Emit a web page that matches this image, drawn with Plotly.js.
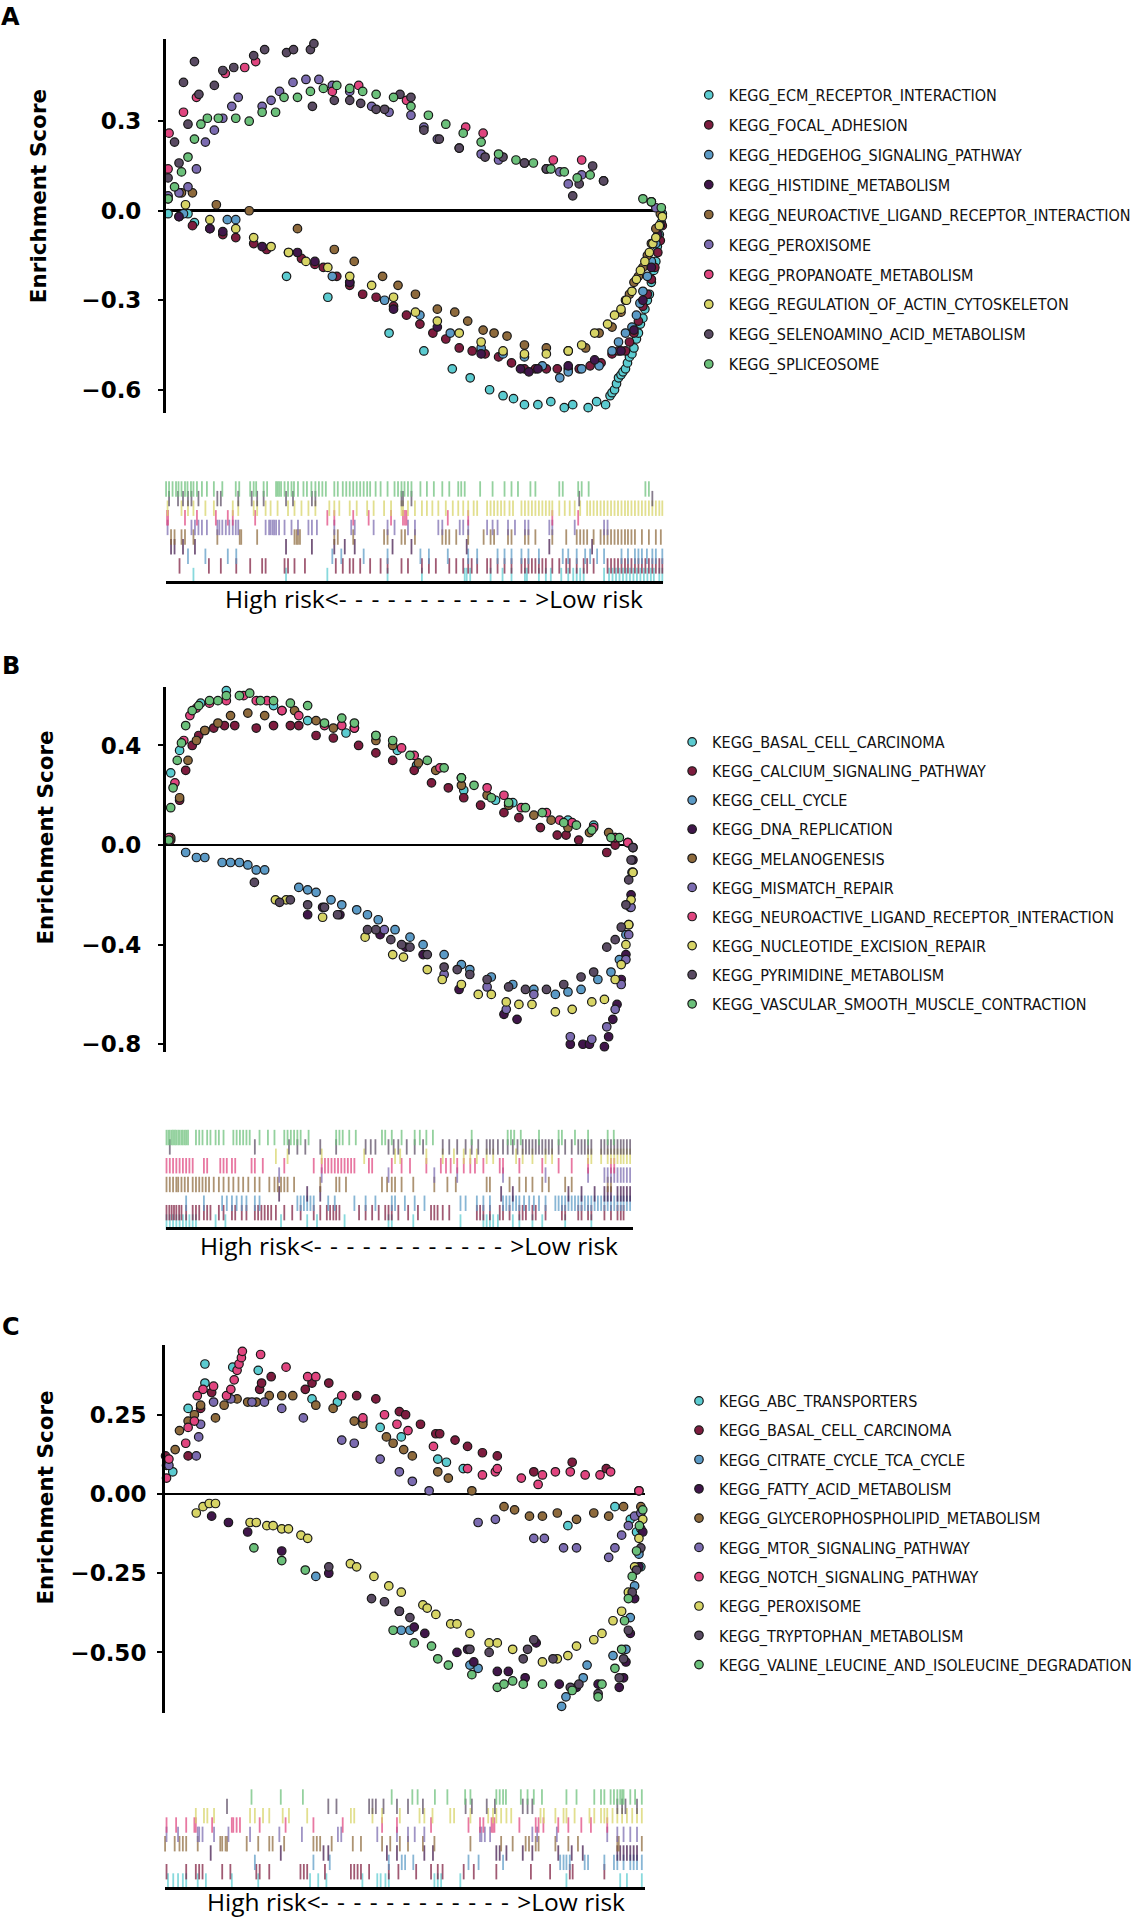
<!DOCTYPE html>
<html>
<head>
<meta charset="utf-8">
<script src="https://cdn.plot.ly/plotly-3.0.1.min.js"></script>
<style>
html,body{margin:0;padding:0;background:#fff;}
#chart{width:1137px;height:1919px;}
</style>
</head>
<body>
<div id="chart"></div>
<script>
// ---------------- palette (shared by the three panels) ----------------
const palette = ['#5BCBD0','#7D1C3E','#5B9AC6','#40164A','#8E6A3C','#7B6BB0','#E0457F','#D7D465','#594A62','#6BC07A'];

// ---------------- Panel A ----------------
const aNames = ['KEGG_ECM_RECEPTOR_INTERACTION','KEGG_FOCAL_ADHESION','KEGG_HEDGEHOG_SIGNALING_PATHWAY','KEGG_HISTIDINE_METABOLISM','KEGG_NEUROACTIVE_LIGAND_RECEPTOR_INTERACTION','KEGG_PEROXISOME','KEGG_PROPANOATE_METABOLISM','KEGG_REGULATION_OF_ACTIN_CYTOSKELETON','KEGG_SELENOAMINO_ACID_METABOLISM','KEGG_SPLICEOSOME'];
const aTicks = [-0.6,-0.3,0,0.3];

const aEcmX = [0.5,4.5,5.8,24.3,32.6,44.9,51.9,57.6,61.2,65.1,67.8,69.9,72.1,74.8,77.4,80.1,81.8,84.9,86.6,88.4,89.3,89.7,90.2,90.6,91.0,91.5,91.9,92.4,92.8,93.2,93.7,94.1,94.6,95.0,95.4,95.9,96.3,96.8,97.2,97.6,98.1,98.5,98.8,99.2,99.6,99.8];
const aEcmY = [-0.01,-0.01,-0.04,-0.22,-0.29,-0.41,-0.47,-0.53,-0.56,-0.60,-0.62,-0.63,-0.65,-0.65,-0.64,-0.66,-0.65,-0.66,-0.64,-0.65,-0.62,-0.61,-0.60,-0.58,-0.56,-0.55,-0.54,-0.53,-0.51,-0.49,-0.48,-0.46,-0.43,-0.41,-0.38,-0.36,-0.33,-0.30,-0.28,-0.24,-0.20,-0.17,-0.12,-0.08,-0.04,-0.01];
const aFocalX = [2.7,5.4,8.9,11.5,14.1,17.7,20.3,24.7,27.3,30.0,31.7,34.4,37.0,39.6,42.3,45.8,48.4,51.1,53.7,56.3,59.0,61.6,64.2,66.9,69.5,72.1,74.3,76.5,78.7,80.9,83.1,85.3,87.5,89.7,91.0,92.4,93.2,94.1,95.0,95.9,96.8,97.6,98.3,98.9,99.4,99.8];
const aFocalY = [-0.02,-0.05,-0.06,-0.08,-0.09,-0.11,-0.13,-0.14,-0.16,-0.18,-0.19,-0.22,-0.25,-0.28,-0.29,-0.32,-0.35,-0.38,-0.41,-0.43,-0.46,-0.47,-0.48,-0.49,-0.51,-0.53,-0.53,-0.53,-0.53,-0.53,-0.53,-0.52,-0.51,-0.48,-0.47,-0.47,-0.44,-0.41,-0.37,-0.32,-0.28,-0.23,-0.19,-0.14,-0.10,-0.05];
const aHedgeX = [3.6,12.4,14.1,33.5,37.0,44.0,51.1,57.2,63.4,67.8,72.1,75.7,79.2,80.9,83.6,87.1,89.7,91.0,92.4,93.7,94.6,95.3,95.9,96.8,97.6,98.5,99.4];
const aHedgeY = [-0.01,-0.03,-0.03,-0.22,-0.24,-0.30,-0.35,-0.41,-0.46,-0.48,-0.49,-0.52,-0.56,-0.54,-0.53,-0.52,-0.47,-0.44,-0.41,-0.39,-0.35,-0.31,-0.27,-0.22,-0.17,-0.11,-0.05];
const aHistX = [2.7,8.9,11.5,19.4,26.5,30.0,37.0,45.8,54.6,63.4,71.3,73.0,74.8,80.9,86.2,91.5,94.1,95.9,97.6,98.9];
const aHistY = [-0.02,-0.06,-0.07,-0.12,-0.14,-0.17,-0.24,-0.33,-0.39,-0.48,-0.53,-0.54,-0.53,-0.52,-0.50,-0.47,-0.40,-0.30,-0.19,-0.08];
const aNeuroX = [0.5,3.2,5.4,10.2,16.8,26.5,33.9,37.9,43.6,46.7,50.2,54.6,58.1,60.7,63.8,66.0,68.6,72.1,76.5,80.9,84.4,87.1,89.7,91.5,92.4,93.2,94.1,95.0,95.9,96.8,97.6,98.5,99.4];
const aNeuroY = [0.04,0.06,0.06,0.02,0.00,-0.06,-0.13,-0.17,-0.22,-0.25,-0.28,-0.33,-0.34,-0.37,-0.40,-0.41,-0.42,-0.45,-0.46,-0.47,-0.46,-0.41,-0.39,-0.34,-0.30,-0.28,-0.24,-0.22,-0.19,-0.15,-0.11,-0.06,-0.01];
const aPeroxX = [0.5,2.7,4.5,6.2,8.0,9.8,11.5,13.3,14.6,19.4,21.2,22.9,25.6,28.2,30.8,33.5,37.0,41.4,44.9,49.3,51.9,54.6,59.0,63.4,66.9,72.1,76.5,79.2,80.9,83.6,88.0,98.5];
const aPeroxY = [0.05,0.06,0.08,0.14,0.23,0.27,0.31,0.35,0.38,0.35,0.37,0.40,0.43,0.44,0.44,0.42,0.40,0.35,0.33,0.32,0.28,0.24,0.21,0.19,0.17,0.16,0.14,0.13,0.09,0.12,0.10,0.01];
const aPropX = [0.5,0.7,3.6,6.2,12.0,15.9,18.1,33.5,38.8,48.4,60.3,63.8,77.9,83.6];
const aPropY = [0.14,0.26,0.33,0.38,0.46,0.48,0.50,0.40,0.42,0.37,0.28,0.26,0.17,0.17];
const aActinX = [4.0,8.9,14.1,17.7,21.2,24.7,28.2,32.6,37.0,41.4,45.8,50.2,54.6,59.0,63.4,67.8,72.1,76.5,80.9,83.6,86.2,88.8,90.2,91.5,92.6,93.7,94.6,95.4,96.3,97.2,97.9,98.5,99.2,99.8];
const aActinY = [0.02,-0.03,-0.06,-0.09,-0.12,-0.14,-0.17,-0.19,-0.22,-0.25,-0.29,-0.34,-0.37,-0.41,-0.44,-0.47,-0.48,-0.48,-0.47,-0.45,-0.41,-0.38,-0.35,-0.33,-0.30,-0.27,-0.23,-0.20,-0.17,-0.14,-0.11,-0.09,-0.05,-0.02];
const aSelenoX = [0.5,1.8,2.7,3.6,4.5,5.8,6.7,9.8,11.5,13.7,17.7,19.9,24.3,25.7,29.1,29.5,29.8,33.9,37.0,39.2,42.3,44.0,47.1,49.3,51.9,55.0,59.0,64.2,67.8,72.1,76.5,81.8,83.1,85.8,88.0,97.6];
const aSelenoY = [0.11,0.23,0.16,0.43,0.29,0.50,0.39,0.42,0.47,0.48,0.52,0.54,0.53,0.54,0.54,0.35,0.56,0.37,0.37,0.36,0.34,0.34,0.39,0.38,0.27,0.24,0.21,0.18,0.18,0.16,0.14,0.05,0.09,0.15,0.10,0.03];
const aSpliceX = [0.5,1.8,3.2,4.5,5.8,7.1,8.4,10.6,14.1,16.8,19.4,22.1,23.8,26.5,29.1,31.7,34.4,37.0,39.6,42.3,45.8,49.3,52.8,56.3,59.8,63.4,66.9,70.4,73.9,77.4,80.1,82.7,85.3,95.9,97.6,99.6];
const aSpliceY = [0.04,0.08,0.13,0.18,0.24,0.29,0.31,0.31,0.31,0.30,0.33,0.33,0.38,0.38,0.40,0.41,0.42,0.41,0.40,0.39,0.38,0.35,0.32,0.29,0.26,0.23,0.19,0.17,0.16,0.14,0.13,0.11,0.12,0.04,0.03,0.01];

const aEcmHits = [5.6,24.2,32.5,44.6,51.5,60.1,60.5,61.2,65.3,67.7,69.5,72.2,72.6,75.0,76.4,77.4,79.5,80.9,81.9,82.6,83.3,84.0,88.1,89.1,89.8,90.5,91.2,91.9,92.6,93.3,94.0,94.7,95.4,96.1,96.8,97.5,98.1,99.2,99.8];
const aFocalHits = [2.8,8.7,11.1,14.2,17.0,19.4,20.1,23.9,24.6,25.9,28.0,34.2,35.6,37.0,37.7,39.1,41.1,43.2,44.6,47.4,48.7,51.5,52.9,54.3,57.0,58.4,59.8,60.8,61.5,62.6,64.6,65.3,66.7,68.1,69.5,71.5,72.2,72.9,73.6,74.3,75.0,75.7,76.4,77.7,79.1,80.5,81.2,82.6,84.0,84.7,86.0,88.8,89.5,90.2,90.9,91.6,92.3,92.9,93.6,94.3,95.0,95.7,96.4,97.1,97.8,98.5,99.2,99.8];
const aHedgeHits = [4.5,8.0,12.5,14.2,33.5,35.3,39.8,44.6,51.2,52.9,56.7,60.8,62.6,66.7,68.1,69.5,71.5,72.9,75.0,79.8,80.9,82.6,84.3,85.3,86.7,88.1,91.6,92.9,94.3,95.0,95.7,96.7,97.8,98.5,99.8];
const aHistHits = [1.1,1.8,3.5,5.9,24.2,29.4,33.9,36.0,38.0,45.6,49.4,60.5,77.1,85.7];
const aNeuroHits = [1.1,1.8,3.2,3.9,5.6,10.4,14.9,15.2,18.4,25.9,26.3,26.6,27.0,33.9,34.6,37.7,43.9,44.6,47.4,48.1,50.1,55.6,56.3,57.0,58.4,60.8,63.9,65.3,66.0,68.8,69.5,72.2,72.9,74.3,77.7,80.5,82.6,83.3,84.0,84.7,86.0,87.4,88.1,88.8,89.5,90.2,90.9,91.6,92.3,92.9,93.6,94.3,95.7,97.1,98.5,99.5];
const aPeroxHits = [0.4,5.2,5.9,6.6,7.3,8.3,10.4,10.8,11.4,12.1,12.8,13.5,14.1,14.6,20.1,20.8,21.1,21.5,21.8,22.2,22.8,23.9,25.3,26.6,28.7,29.4,30.4,33.9,37.3,38.0,41.8,44.6,46.0,48.7,50.1,54.8,55.6,59.1,59.8,60.8,64.6,65.7,66.7,68.8,70.2,72.2,72.9,77.1,77.7,82.2,88.1,88.8];
const aPropHits = [0.3,0.5,3.9,6.3,10.1,12.5,13.5,18.0,32.5,33.9,37.7,40.8,45.3,47.7,48.1,48.4,56.7,60.8,77.7,82.9];
const aActinHits = [0.4,3.2,4.5,5.6,8.0,9.7,13.5,14.6,17.7,18.4,20.1,21.1,22.5,24.6,25.9,27.3,28.7,30.1,32.9,33.9,34.9,37.0,38.4,40.5,41.8,43.9,45.3,47.4,47.7,48.7,50.1,51.5,52.5,53.6,54.8,56.3,57.7,58.8,59.8,60.8,61.9,62.6,64.6,65.3,66.0,66.7,67.4,68.1,69.1,69.8,71.5,72.2,72.9,73.6,74.3,75.0,75.7,76.4,77.1,77.7,79.1,80.2,81.2,82.2,83.3,84.7,85.3,86.0,86.7,87.4,88.1,88.8,89.5,90.2,90.9,91.6,92.3,92.9,93.6,94.3,95.0,95.7,96.4,97.1,97.8,98.5,99.2,99.8];
const aSelenoHits = [0.7,2.5,3.5,4.5,5.2,6.6,10.4,11.1,14.6,17.3,18.4,19.7,24.2,25.6,29.4,30.1,47.4,47.7,49.4,83.1,97.8];
const aSpliceHits = [0.1,0.7,1.4,2.1,2.6,3.2,3.9,4.4,5.1,5.6,6.3,7.3,8.3,9.7,11.4,14.1,14.8,17.0,17.7,18.2,19.7,20.4,22.2,22.5,22.8,23.2,23.9,24.6,25.3,25.8,26.6,27.7,28.4,29.3,30.1,30.8,31.5,32.2,33.9,34.6,35.6,36.3,37.0,37.7,38.4,39.1,39.8,40.5,41.1,42.2,43.2,44.6,46.0,46.7,47.4,48.0,48.7,49.4,51.2,52.5,53.9,55.6,57.0,58.8,59.4,60.1,63.2,65.7,68.1,69.5,70.8,73.3,74.3,79.1,79.8,82.9,83.6,85.0,96.4,97.1];

// ---------------- Panel B ----------------
const bNames = ['KEGG_BASAL_CELL_CARCINOMA','KEGG_CALCIUM_SIGNALING_PATHWAY','KEGG_CELL_CYCLE','KEGG_DNA_REPLICATION','KEGG_MELANOGENESIS','KEGG_MISMATCH_REPAIR','KEGG_NEUROACTIVE_LIGAND_RECEPTOR_INTERACTION','KEGG_NUCLEOTIDE_EXCISION_REPAIR','KEGG_PYRIMIDINE_METABOLISM','KEGG_VASCULAR_SMOOTH_MUSCLE_CONTRACTION'];
const bTicks = [-0.8,-0.4,0,0.4];

const bBasalX = [1.1,3.0,7.5,13.0,23.1,30.4,38.6,49.6,53.7,63.8,70.6,74.3,86.1,91.6,96.2,98.9];
const bBasalY = [0.29,0.38,0.57,0.62,0.56,0.50,0.45,0.38,0.32,0.22,0.18,0.17,0.10,0.08,0.02,0.01];
const bCalciumX = [1.1,3.0,4.3,5.7,7.1,8.4,10.3,12.6,14.8,19.4,23.1,26.7,28.5,32.2,35.9,41.3,45.0,48.6,53.2,56.9,60.5,63.8,67.4,72.4,75.6,80.2,83.8,85.7,88.4,94.4,96.2,98.9];
const bCalciumY = [0.02,0.18,0.30,0.40,0.44,0.46,0.47,0.48,0.48,0.47,0.48,0.48,0.48,0.44,0.43,0.40,0.37,0.34,0.30,0.25,0.23,0.19,0.16,0.13,0.11,0.07,0.04,0.04,0.02,-0.03,0.00,0.01];
const bCycleX = [4.3,6.6,8.4,12.1,13.9,15.8,17.6,19.4,21.2,28.5,30.4,32.2,35.4,37.7,40.9,43.2,45.5,49.1,52.3,55.1,59.6,63.3,65.1,69.7,74.3,78.8,83.4,86.1,88.9,92.5,95.3,97.1,98.5,99.4,99.8,100];
const bCycleY = [-0.03,-0.05,-0.05,-0.07,-0.07,-0.07,-0.08,-0.10,-0.10,-0.17,-0.18,-0.19,-0.22,-0.24,-0.26,-0.28,-0.30,-0.34,-0.37,-0.40,-0.44,-0.48,-0.50,-0.53,-0.56,-0.58,-0.60,-0.59,-0.58,-0.54,-0.51,-0.46,-0.36,-0.25,-0.11,-0.01];
const bDnaX = [30.4,33.6,37.3,45.9,51.4,55.1,62.8,72.4,75.2,86.6,89.3,90.7,93.9,94.8,95.7,96.6,97.5,98.5,99.1,99.6,100];
const bDnaY = [-0.28,-0.25,-0.28,-0.36,-0.41,-0.44,-0.58,-0.68,-0.70,-0.80,-0.80,-0.80,-0.81,-0.77,-0.70,-0.64,-0.54,-0.44,-0.32,-0.20,-0.06];
const bMelanoX = [1.1,3.0,4.8,6.6,8.4,11.2,13.9,17.6,21.2,24.9,27.6,32.2,35.9,40.4,45.0,48.6,54.1,57.8,63.3,68.8,73.4,78.8,82.5,86.1,90.7,94.8,96.2];
const bMelanoY = [0.03,0.19,0.34,0.42,0.46,0.49,0.52,0.53,0.52,0.54,0.54,0.50,0.47,0.47,0.42,0.40,0.33,0.30,0.24,0.20,0.16,0.12,0.10,0.07,0.05,0.05,0.03];
const bMismatchX = [46.8,59.6,68.8,72.9,78.8,86.6,91.2,94.4,96.2,97.5,98.5,99.1,99.6,100];
const bMismatchY = [-0.34,-0.52,-0.57,-0.66,-0.60,-0.77,-0.78,-0.73,-0.66,-0.56,-0.46,-0.36,-0.25,-0.11];
const bNeuroX = [0.7,2.0,3.9,5.2,6.6,9.4,13.0,16.7,19.4,21.7,24.9,28.5,34.0,37.7,40.4,45.0,50.5,53.2,58.7,63.3,68.8,72.4,76.1,81.5,84.3,87.0,91.6,96.2,98.9];
const bNeuroY = [0.03,0.25,0.42,0.52,0.55,0.57,0.58,0.60,0.58,0.58,0.54,0.52,0.48,0.48,0.47,0.44,0.39,0.36,0.31,0.27,0.23,0.20,0.15,0.13,0.10,0.09,0.07,0.03,0.01];
const bNucleoX = [23.5,25.8,33.6,42.7,48.6,50.9,56.0,59.2,63.3,66.9,69.7,72.9,75.6,78.4,83.4,87.0,91.2,93.9,96.2,97.5,98.5,99.1,99.6,100];
const bNucleoY = [-0.22,-0.22,-0.29,-0.37,-0.44,-0.45,-0.50,-0.54,-0.56,-0.60,-0.60,-0.63,-0.64,-0.64,-0.67,-0.66,-0.63,-0.62,-0.54,-0.48,-0.40,-0.32,-0.22,-0.11];
const bPyrimX = [19.0,24.4,26.7,30.4,34.0,36.8,43.2,45.0,48.2,50.5,52.3,56.0,59.6,62.4,65.1,68.8,73.4,77.0,81.5,85.2,88.9,91.6,94.4,96.2,97.5,98.5,99.1,99.6,100];
const bPyrimY = [-0.15,-0.23,-0.22,-0.24,-0.25,-0.28,-0.34,-0.34,-0.38,-0.40,-0.41,-0.44,-0.49,-0.50,-0.52,-0.54,-0.57,-0.58,-0.58,-0.56,-0.53,-0.51,-0.41,-0.38,-0.33,-0.24,-0.14,-0.06,-0.01];
const bVascX = [0.7,1.1,1.6,2.5,3.4,4.3,5.7,7.1,9.4,11.2,13.0,15.8,18.0,20.3,23.1,26.7,30.4,34.0,37.7,40.4,45.0,48.6,52.3,56.0,59.6,63.3,66.0,69.7,73.4,77.0,80.6,85.2,87.9,91.2,95.3,97.1];
const bVascY = [0.02,0.15,0.23,0.34,0.41,0.48,0.54,0.56,0.58,0.58,0.60,0.60,0.61,0.58,0.58,0.57,0.56,0.49,0.51,0.49,0.44,0.42,0.36,0.34,0.31,0.27,0.24,0.19,0.17,0.15,0.13,0.09,0.08,0.06,0.03,0.03];

const bBasalHits = [0.2,0.9,1.6,2.3,3.0,3.7,4.4,5.1,5.8,6.5,10.7,12.8,24.7,30.3,32.4,38.3,47.7,48.4,53.0,63.1,68.0,68.7,69.4,70.1,71.1,74.3,75.7,78.5,80.6,85.5,91.1];
const bCalciumHits = [0.2,0.8,1.3,1.8,2.3,2.9,3.4,4.4,5.8,6.5,7.2,8.2,8.9,9.6,11.4,12.4,14.2,14.9,16.3,17.3,19.1,19.8,20.5,21.2,21.9,22.6,23.6,25.4,27.1,28.9,31.7,33.1,34.5,35.2,35.9,36.5,37.2,41.4,42.8,44.2,45.6,47.0,47.7,48.4,49.8,51.9,54.0,56.8,57.5,58.2,59.3,60.7,66.6,67.3,68.0,69.4,71.5,72.2,73.6,75.7,76.4,77.1,78.5,79.2,81.3,84.8,85.5,88.3,89.0,90.4,91.1,93.9,95.3,96.7,97.4,98.0];
const bCycleHits = [4.4,8.2,12.1,13.1,14.2,15.2,16.3,17.3,19.1,20.1,28.2,28.9,29.6,30.3,31.0,31.7,34.8,36.2,40.4,42.8,44.9,48.4,49.1,51.2,53.3,55.4,63.1,64.2,66.6,68.0,69.4,72.2,72.9,73.6,74.3,75.0,75.7,76.7,77.8,78.8,79.9,81.3,83.4,84.1,84.8,85.5,86.2,86.9,87.6,88.3,89.0,89.7,90.4,91.1,91.8,92.5,93.2,93.9,94.6,95.3,96.0,96.7,97.4,98.0,98.7,99.4];
const bDnaHits = [24.3,30.3,33.1,71.8,74.3,86.2,89.0,91.8,93.9,94.6,95.3,96.7,97.4,98.0,98.7,99.4];
const bMelanoHits = [0.2,0.9,1.6,2.3,2.7,3.4,4.1,4.8,5.8,6.5,7.2,7.9,8.6,9.3,10.3,11.4,12.4,13.5,14.5,15.6,16.6,17.7,19.1,20.1,22.2,23.3,24.0,24.7,25.4,26.1,27.5,33.1,36.5,37.2,38.6,46.3,47.4,48.4,49.1,50.5,53.0,57.5,60.3,62.1,68.7,69.4,73.6,75.7,77.1,78.5,80.6,82.0,85.5,86.9,94.6,95.3];
const bMismatchHits = [24.3,33.4,47.7,57.5,62.4,72.2,81.3,90.4,93.9,94.6,95.3,96.0,96.7,97.4,98.0,98.7,99.4];
const bNeuroHits = [0.2,0.9,1.6,2.3,3.0,3.7,4.4,5.1,5.8,8.2,8.9,11.7,12.4,13.1,14.2,14.9,18.4,19.1,20.8,25.4,31.7,33.4,34.1,34.8,35.5,36.2,36.9,37.6,38.3,39.0,39.7,40.4,43.5,44.2,48.4,50.5,52.3,55.8,58.9,60.0,61.0,62.4,63.8,65.2,66.2,68.0,71.5,72.2,75.7,80.6,84.1,86.9,90.4,95.3,96.0];
const bNucleoHits = [23.6,26.1,33.4,42.5,49.1,50.2,55.8,59.3,61.7,63.8,65.2,66.6,68.7,70.1,75.0,76.4,78.5,81.3,82.7,90.4,91.1,93.2,94.6,95.3,96.0,96.7,97.4,98.0,98.7,99.4];
const bPyrimHits = [0.9,19.1,26.4,28.2,29.9,33.1,36.5,42.8,43.9,44.9,47.7,48.8,49.8,51.6,53.3,55.1,59.3,60.7,62.4,64.2,65.5,66.9,68.7,69.4,70.1,71.1,72.2,73.2,74.3,75.3,76.4,77.1,77.8,78.5,79.2,79.9,80.6,81.3,82.0,82.7,84.1,85.5,86.9,88.3,89.0,89.7,90.4,91.1,93.2,93.9,94.6,95.3,96.0,96.7,97.4,98.0,98.7,99.4];
const bVascHits = [0.2,0.6,0.9,1.3,1.6,2.0,2.3,2.7,3.0,3.4,3.7,4.1,4.4,4.8,6.5,7.2,7.9,8.9,9.6,10.7,11.4,12.4,14.5,15.2,15.9,16.6,17.3,18.0,20.1,21.9,23.3,25.4,26.1,26.8,27.5,28.2,28.9,30.6,36.5,37.2,37.9,39.3,40.7,46.3,47.0,48.4,50.5,53.3,54.4,55.8,57.2,65.5,73.2,73.9,74.6,76.0,79.9,84.1,84.8,87.6,90.4,94.6,95.9];

// ---------------- Panel C ----------------
const cNames = ['KEGG_ABC_TRANSPORTERS','KEGG_BASAL_CELL_CARCINOMA','KEGG_CITRATE_CYCLE_TCA_CYCLE','KEGG_FATTY_ACID_METABOLISM','KEGG_GLYCEROPHOSPHOLIPID_METABOLISM','KEGG_MTOR_SIGNALING_PATHWAY','KEGG_NOTCH_SIGNALING_PATHWAY','KEGG_PEROXISOME','KEGG_TRYPTOPHAN_METABOLISM','KEGG_VALINE_LEUCINE_AND_ISOLEUCINE_DEGRADATION'];
const cTicks = [-0.5,-0.25,0,0.25];

const cAbcX = [1.7,4.9,8.4,8.4,14.2,19.5,30.7,36.0,41.3,44.9,49.3,56.9,58.7,62.2,84.0,93.8,97.0,98.3,98.8,99.2];
const cAbcY = [0.07,0.27,0.41,0.35,0.40,0.39,0.30,0.29,0.23,0.21,0.18,0.11,0.10,0.08,-0.10,-0.04,-0.08,-0.12,-0.18,-0.23];
const cBasalX = [0.2,4.9,7.5,9.8,19.8,20.2,22.2,29.3,30.7,34.2,40.0,44.0,48.9,50.2,53.3,56.5,57.3,60.5,63.1,66.2,69.3,76.9,84.9,92.0,98.8];
const cBasalY = [0.12,0.12,0.27,0.32,0.33,0.35,0.37,0.33,0.35,0.35,0.31,0.30,0.26,0.25,0.22,0.19,0.19,0.17,0.15,0.13,0.12,0.07,0.10,0.08,0.01];
const cCitrateX = [31.5,49.3,51.1,63.6,65.3,82.7,83.6,87.2,88.0,93.4,96.1,97.0,97.9,98.8,99.2];
const cCitrateY = [-0.26,-0.43,-0.43,-0.54,-0.55,-0.67,-0.64,-0.58,-0.54,-0.51,-0.49,-0.39,-0.29,-0.19,-0.11];
const cFattyX = [9.8,13.3,17.3,24.4,34.2,48.9,52.0,54.2,60.9,63.1,64.4,69.3,71.6,75.1,77.4,82.2,85.8,90.3,94.7,95.6,96.1,97.0,97.9,98.8,99.6];
const cFattyY = [-0.07,-0.09,-0.12,-0.18,-0.25,-0.37,-0.42,-0.44,-0.50,-0.49,-0.53,-0.56,-0.56,-0.58,-0.47,-0.60,-0.61,-0.60,-0.61,-0.58,-0.53,-0.44,-0.33,-0.23,-0.12];
const cGlyceroX = [0.4,2.2,3.1,4.9,6.2,7.5,10.6,12.4,15.1,17.3,19.1,21.8,24.4,26.7,31.5,35.1,39.5,41.3,46.2,47.6,49.8,51.6,56.9,59.1,64.0,70.7,72.9,76.0,78.7,81.8,85.8,89.4,92.5,95.6,99.2];
const cGlyceroY = [0.09,0.14,0.20,0.23,0.25,0.28,0.24,0.28,0.30,0.29,0.29,0.31,0.31,0.31,0.28,0.27,0.23,0.22,0.18,0.16,0.14,0.12,0.07,0.05,0.01,-0.04,-0.05,-0.07,-0.07,-0.06,-0.08,-0.06,-0.07,-0.04,-0.04];
const cMtorX = [0.9,6.6,7.1,7.5,10.2,13.8,18.2,20.8,24.4,28.9,36.9,39.5,44.9,48.9,51.6,55.1,65.3,68.9,76.9,79.1,83.1,85.8,92.5,93.8,95.2,96.6,97.9,99.2];
const cMtorY = [0.09,0.12,0.18,0.22,0.29,0.30,0.29,0.29,0.27,0.24,0.17,0.16,0.11,0.07,0.04,0.01,-0.09,-0.08,-0.14,-0.14,-0.17,-0.17,-0.20,-0.17,-0.13,-0.10,-0.07,-0.06];
const cNotchX = [0.4,0.9,4.4,4.9,6.2,6.8,8.0,10.2,12.9,13.8,14.5,15.1,15.5,16.0,16.2,20.0,25.3,29.8,31.5,36.9,41.3,45.8,48.4,50.7,56.0,63.1,66.2,68.9,69.3,74.3,77.8,78.7,81.4,84.5,87.6,90.7,92.9,98.8];
const cNotchY = [0.05,0.11,0.16,0.21,0.23,0.31,0.33,0.34,0.31,0.33,0.36,0.39,0.41,0.43,0.45,0.44,0.40,0.37,0.37,0.31,0.24,0.25,0.22,0.20,0.15,0.08,0.06,0.07,0.08,0.05,0.03,0.06,0.07,0.07,0.06,0.06,0.07,0.01];
const cPeroxX = [6.6,8.0,9.3,10.6,17.8,19.1,21.3,22.6,24.4,25.8,28.4,29.8,38.7,40.0,43.6,46.7,49.3,53.8,54.7,56.5,59.6,60.9,63.6,67.6,69.3,72.5,78.7,81.8,84.0,85.8,89.4,91.1,93.4,95.2,96.6,97.9,98.8,99.6];
const cPeroxY = [-0.06,-0.04,-0.03,-0.03,-0.09,-0.09,-0.10,-0.10,-0.11,-0.11,-0.13,-0.14,-0.22,-0.23,-0.26,-0.29,-0.31,-0.35,-0.36,-0.38,-0.41,-0.41,-0.44,-0.47,-0.47,-0.49,-0.53,-0.52,-0.51,-0.48,-0.46,-0.44,-0.40,-0.37,-0.31,-0.23,-0.14,-0.08];
const cTrypX = [34.2,43.1,45.8,48.9,51.1,63.6,67.6,74.7,75.6,76.9,80.9,84.5,86.3,90.3,94.7,95.6,96.6,97.4,98.3,99.2];
const cTrypY = [-0.23,-0.33,-0.34,-0.37,-0.39,-0.49,-0.50,-0.52,-0.49,-0.46,-0.52,-0.61,-0.60,-0.63,-0.58,-0.52,-0.43,-0.31,-0.24,-0.17];
const cValineX = [18.6,24.4,29.3,47.6,52.0,55.6,56.9,59.1,64.0,69.3,70.7,72.5,74.7,78.7,84.9,90.3,91.1,93.8,95.2,95.8,96.6,97.4,98.3,98.9,99.6];
const cValineY = [-0.17,-0.21,-0.24,-0.43,-0.47,-0.48,-0.52,-0.54,-0.57,-0.61,-0.60,-0.59,-0.60,-0.60,-0.62,-0.64,-0.60,-0.55,-0.49,-0.40,-0.33,-0.26,-0.18,-0.10,-0.05];

const cAbcHits = [0.7,1.8,2.8,3.8,4.5,6.9,8.6,14.0,19.5,30.3,32.0,33.7,41.2,44.3,45.0,46.0,46.7,56.2,56.9,57.6,61.6,83.7,94.9,96.3,99.4];
const cBasalHits = [0.4,4.5,6.5,7.2,7.9,12.0,13.7,19.1,19.8,21.8,28.3,29.0,29.7,33.4,38.8,39.5,40.2,40.9,42.6,46.7,48.7,52.4,55.5,56.9,57.9,62.3,64.4,69.1,76.3,80.3,84.4,85.0,91.6];
const cCitrateHits = [18.8,31.0,34.4,46.7,49.4,50.1,51.8,63.3,65.4,70.5,82.4,83.1,83.7,84.4,87.5,88.2,91.6,93.6,94.3,95.6,97.0,97.7,98.4,99.4];
const cFattyHits = [9.6,24.2,33.1,34.1,46.3,48.4,54.1,55.9,69.1,69.8,71.2,74.6,76.6,82.0,84.8,87.1,94.3,94.9,95.6,96.3,97.0,97.7,98.4];
const cGlyceroHits = [0.1,2.1,3.1,3.8,4.5,6.9,11.6,12.0,12.7,13.0,17.1,19.5,21.8,22.5,24.9,31.0,31.7,32.4,34.8,39.2,40.9,45.3,47.0,49.0,50.7,53.8,56.2,63.7,70.1,72.5,75.2,75.9,77.3,77.9,81.4,84.1,86.1,94.3,94.6,99.4];
const cMtorHits = [0.4,2.8,6.9,7.2,7.9,10.3,13.3,17.8,23.9,28.6,36.1,36.8,44.3,48.4,50.7,52.1,54.1,65.7,66.0,66.7,67.8,76.6,77.6,81.7,92.2,94.3,95.6,97.0,98.4];
const cNotchHits = [0.4,2.4,4.5,6.2,6.5,9.9,14.0,14.3,15.0,15.7,19.8,25.2,31.0,37.1,45.3,48.4,55.5,63.3,65.7,66.4,68.1,68.4,68.7,73.9,77.3,77.9,78.9,82.0,84.1,86.8,88.8,92.2];
const cPeroxHits = [6.5,8.2,8.9,10.3,17.8,18.8,20.5,21.8,24.6,25.9,29.7,38.8,39.5,43.3,45.3,49.0,53.1,54.1,55.8,59.5,60.3,63.7,67.4,68.4,69.1,70.1,71.2,72.2,78.3,79.0,81.4,83.1,83.7,85.4,88.5,89.5,90.9,91.6,92.2,93.3,94.3,95.3,96.3,97.4,98.4,99.4];
const cTrypHits = [13.0,34.1,35.8,42.6,43.3,44.0,45.6,48.4,50.7,53.8,62.7,64.0,67.1,68.8,74.6,75.6,76.6,94.3,95.3,96.0,98.4];
const cValineHits = [18.1,24.2,28.8,47.3,51.6,52.7,56.3,58.9,62.6,63.7,69.1,69.8,70.5,71.1,74.2,75.6,76.9,78.6,83.7,85.8,89.5,90.9,91.6,92.9,93.6,94.3,94.9,95.3,95.6,97.0,98.0,99.4];

// ---------------- build ----------------
const W = 1137, H = 1919;
const px = v => v / W;
const py = v => 1 - v / H;

const panels = [
  {names:aNames, xs:[aEcmX,aFocalX,aHedgeX,aHistX,aNeuroX,aPeroxX,aPropX,aActinX,aSelenoX,aSpliceX],
   ys:[aEcmY,aFocalY,aHedgeY,aHistY,aNeuroY,aPeroxY,aPropY,aActinY,aSelenoY,aSpliceY],
   hits:[aEcmHits,aFocalHits,aHedgeHits,aHistHits,aNeuroHits,aPeroxHits,aPropHits,aActinHits,aSelenoHits,aSpliceHits],
   legend:'legend', ticks:aTicks, fmt:'.1f'},
  {names:bNames, xs:[bBasalX,bCalciumX,bCycleX,bDnaX,bMelanoX,bMismatchX,bNeuroX,bNucleoX,bPyrimX,bVascX],
   ys:[bBasalY,bCalciumY,bCycleY,bDnaY,bMelanoY,bMismatchY,bNeuroY,bNucleoY,bPyrimY,bVascY],
   hits:[bBasalHits,bCalciumHits,bCycleHits,bDnaHits,bMelanoHits,bMismatchHits,bNeuroHits,bNucleoHits,bPyrimHits,bVascHits],
   legend:'legend2', ticks:bTicks, fmt:'.1f'},
  {names:cNames, xs:[cAbcX,cBasalX,cCitrateX,cFattyX,cGlyceroX,cMtorX,cNotchX,cPeroxX,cTrypX,cValineX],
   ys:[cAbcY,cBasalY,cCitrateY,cFattyY,cGlyceroY,cMtorY,cNotchY,cPeroxY,cTrypY,cValineY],
   hits:[cAbcHits,cBasalHits,cCitrateHits,cFattyHits,cGlyceroHits,cMtorHits,cNotchHits,cPeroxHits,cTrypHits,cValineHits],
   legend:'legend3', ticks:cTicks, fmt:'.2f'}
];

// layout geometry in pixels (positions/sizes only)
const geo = [
  {x0:169, x1:677, top:39.3, bot:413.3, yr:[-0.679,0.5746], standoff:12, rugTop:483.2, rugBot:581.3, rugR:[-0.6,9.6], tick:11,
   letter:[11,17,'A'], ytitle:[40,196], risk:[443,598], leg:[703,78], gap:6.1},
  {x0:169, x1:646, top:686.7, bot:1051.7, yr:[-0.83,0.636], standoff:12, rugTop:1131.9, rugBot:1227.2, rugR:[-0.55,9.6], tick:11,
   letter:[11,666,'B'], ytitle:[46,837.5], risk:[417,1245], leg:[686,725], gap:5.3},
  {x0:168, x1:658, top:1345, bot:1713.3, yr:[-0.692,0.47], standoff:6, rugTop:1791.4, rugBot:1887, rugR:[-0.64,9.6], tick:11,
   letter:[11,1327,'C'], ytitle:[46,1497.5], risk:[425,1901], leg:[693,1384], gap:5.5}
];

const traces = [];
const layout = {
  width:W, height:H, margin:{l:0,r:0,t:0,b:0},
  paper_bgcolor:'#fff', plot_bgcolor:'rgba(0,0,0,0)',
  showlegend:true, annotations:[], hovermode:false
};

panels.forEach((p, k) => {
  const g = geo[k];
  const sx = 'x' + (2*k+1), sy = 'y' + (2*k+1);
  const rx = 'x' + (2*k+2), ry = 'y' + (2*k+2);
  const axName = n => n.replace('x','xaxis').replace('y','yaxis').replace(/axis1$/,'axis');

  p.names.forEach((nm, i) => {
    traces.push({
      type:'scatter', mode:'markers', x:p.hits[i], y:p.hits[i].map(() => nm),
      xaxis:rx, yaxis:ry, showlegend:false, legendgroup:k+'_'+i, legend:p.legend,
      marker:{symbol:'line-ns-open', size:g.tick, color:palette[i], line:{color:palette[i], width:1.8}},
      opacity:0.72, cliponaxis:false, hoverinfo:'skip'
    });
  });
  p.names.forEach((nm, i) => {
    traces.push({
      type:'scatter', mode:'markers', name:nm, x:p.xs[i], y:p.ys[i],
      xaxis:sx, yaxis:sy, legend:p.legend, legendgroup:k+'_'+i,
      marker:{size:8.5, color:palette[i], line:{color:'#181818', width:1.2}},
      cliponaxis:false
    });
  });

  layout[axName(sx)] = {domain:[px(g.x0), px(g.x1)], range:[0,100], visible:false, anchor:sy, fixedrange:true};
  layout[axName(sy)] = {
    domain:[py(g.bot), py(g.top)], range:g.yr, anchor:sx,
    showline:true, linewidth:2.6, linecolor:'#000', mirror:false,
    ticks:'outside', ticklen:5, tickwidth:2, tickcolor:'#000',
    tickvals:p.ticks, tickformat:p.fmt, ticklabelstandoff:g.standoff,
    tickfont:{family:'DejaVu Sans, sans-serif', size:23, weight:700, color:'#000'},
    showgrid:false, zeroline:true, zerolinecolor:'#000', zerolinewidth:2.6, fixedrange:true
  };
  layout[axName(rx)] = {domain:[px(g.x0), px(g.x1)], range:[0,100], anchor:ry,
    showline:true, linewidth:3, linecolor:'#000', showticklabels:false, ticks:'', showgrid:false, zeroline:false, fixedrange:true};
  layout[axName(ry)] = {domain:[py(g.rugBot), py(g.rugTop)], range:g.rugR, anchor:rx,
    type:'category', categoryorder:'array', categoryarray:p.names, visible:false, fixedrange:true};

  layout[p.legend] = {
    x:px(g.leg[0]), y:py(g.leg[1]), xanchor:'left', yanchor:'top',
    bgcolor:'rgba(0,0,0,0)', borderwidth:0, tracegroupgap:g.gap,
    font:{family:'Liberation Sans Narrow, DejaVu Sans Condensed, Arial Narrow, sans-serif', size:16, color:'#111'}
  };

  layout.annotations.push(
    {xref:'paper', yref:'paper', x:px(g.letter[0]), y:py(g.letter[1]), text:'<b>'+g.letter[2]+'</b>', showarrow:false,
     xanchor:'center', yanchor:'middle', font:{family:'DejaVu Sans, sans-serif', size:24, color:'#000'}},
    {xref:'paper', yref:'paper', x:px(g.ytitle[0]), y:py(g.ytitle[1]), text:'<b>Enrichment Score</b>', textangle:-90, showarrow:false,
     xanchor:'center', yanchor:'middle', font:{family:'DejaVu Sans, sans-serif', size:21.5, color:'#000'}},
    {xref:'paper', yref:'paper', x:px(g.risk[0]), y:py(g.risk[1]), showarrow:false, xanchor:'center', yanchor:'middle',
     text:'High risk&lt;<span style="letter-spacing:8.5px">------------</span>&gt;Low risk',
     font:{family:'Open Sans, Noto Sans, sans-serif', size:24.5, color:'#000'}}
  );
});

Plotly.newPlot('chart', traces, layout, {displayModeBar:false, staticPlot:true});
</script>
</body>
</html>
